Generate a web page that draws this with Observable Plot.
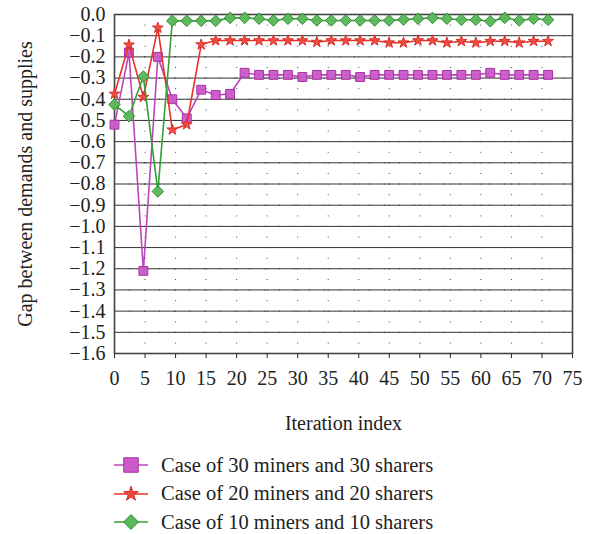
<!DOCTYPE html>
<html>
<head>
<meta charset="utf-8">
<script src="https://cdn.jsdelivr.net/npm/d3@7"></script>
<script src="https://cdn.jsdelivr.net/npm/@observablehq/plot@0.6"></script>
<style>
  html, body { margin: 0; padding: 0; background: #fff; }
  #chart { width: 600px; }
  #chart svg text { font-size: 20px; font-family: "Liberation Serif", serif; fill: #222; }
  .legend { font-family: "Liberation Serif", serif; font-size: 20.5px; color: #222; padding-left: 112px; margin-top: 11px; }
  .legend .row { display: flex; align-items: center; height: 28.5px; }
  .legend svg { margin-right: 11px; }
</style>
</head>
<body>
<div id="chart"></div>
<script>
// Iteration index positions of the markers
const iterations = [0, 2.37, 4.73, 7.1, 9.47, 11.83, 14.2, 16.57, 18.93, 21.3, 23.67, 26.03, 28.4, 30.77, 33.13, 35.5, 37.87, 40.23, 42.6, 44.97, 47.33, 49.7, 52.07, 54.43, 56.8, 59.17, 61.53, 63.9, 66.27, 68.63, 71];

const gap30 = [-0.52, -0.18, -1.21, -0.20, -0.40, -0.49, -0.355, -0.38, -0.375, -0.275, -0.285, -0.285, -0.285, -0.295, -0.285, -0.285, -0.285, -0.295, -0.285, -0.285, -0.285, -0.285, -0.285, -0.285, -0.285, -0.285, -0.275, -0.285, -0.285, -0.285, -0.285];
const gap20 = [-0.375, -0.143, -0.39, -0.063, -0.544, -0.519, -0.142, -0.123, -0.123, -0.123, -0.123, -0.123, -0.123, -0.123, -0.13, -0.123, -0.123, -0.123, -0.123, -0.133, -0.133, -0.123, -0.123, -0.133, -0.126, -0.133, -0.126, -0.126, -0.133, -0.126, -0.126];
const gap10 = [-0.425, -0.48, -0.293, -0.835, -0.03, -0.03, -0.03, -0.03, -0.016, -0.016, -0.02, -0.028, -0.02, -0.02, -0.028, -0.028, -0.028, -0.028, -0.028, -0.028, -0.024, -0.02, -0.016, -0.02, -0.025, -0.025, -0.032, -0.016, -0.028, -0.02, -0.025];

const seriesNames = ["Case of 30 miners and 30 sharers", "Case of 20 miners and 20 sharers", "Case of 10 miners and 10 sharers"];
const xTicks = [0, 5, 10, 15, 20, 25, 30, 35, 40, 45, 50, 55, 60, 65, 70, 75];
const yTicks = [0, -0.1, -0.2, -0.3, -0.4, -0.5, -0.6, -0.7, -0.8, -0.9, -1.0, -1.1, -1.2, -1.3, -1.4, -1.5, -1.6];

const styles = [
  {line: "#bd45bb", fill: "#c95ac7", stroke: "#a92fa7", symbol: "square", r: 5, legendSym: d3.symbolSquare, legendSize: 210},
  {line: "#e8302b", fill: "#ef4a40", stroke: "#d92a24", symbol: "star", r: 3.4, legendSym: d3.symbolStar, legendSize: 66},
  {line: "#34a034", fill: "#5cb65c", stroke: "#2a8f2a", symbol: "diamond2", r: 5.2, legendSym: d3.symbolDiamond2, legendSize: 140}
];
const allSeries = [gap30, gap20, gap10];
const data = allSeries.map((vals, k) => iterations.map((x, i) => ({x, y: vals[i], s: seriesNames[k]})));

const marks = [
  Plot.gridX(xTicks, {stroke: "#333", strokeOpacity: 0.9, strokeDasharray: "1,9.6"}),
  Plot.gridY(yTicks, {stroke: "#333", strokeOpacity: 0.9, strokeDasharray: "1,14"}),
  Plot.axisX(xTicks, {tickSize: 5, tickPadding: 12, label: "Iteration index", labelAnchor: "center", labelArrow: "none", labelOffset: 76}),
  Plot.axisY(yTicks, {tickSize: 0, tickPadding: 9, tickFormat: d3.format(".1f"), label: "Gap between demands and supplies", labelAnchor: "center", labelArrow: "none", labelOffset: 97}),
  Plot.tickY(yTicks, {y: d => d, x1: 0, x2: 0.9, stroke: "#333"}),
  Plot.frame({stroke: "#444", strokeWidth: 1.6})
];
data.forEach((d, k) => {
  const st = styles[k];
  marks.push(Plot.line(d, {x: "x", y: "y", stroke: st.line, strokeWidth: 1.6}));
  marks.push(Plot.dot(d, {x: "x", y: "y", symbol: () => st.symbol, r: st.r, fill: st.fill, stroke: st.stroke, strokeWidth: 1, fillOpacity: 0.95}));
});

const plot = Plot.plot({
  width: 600,
  height: 440,
  marginTop: 14,
  marginLeft: 114,
  marginRight: 28,
  marginBottom: 87,
  style: {fontFamily: "Liberation Serif, serif", color: "#222", background: "#fff"},
  x: {domain: [0, 75]},
  y: {domain: [-1.6, 0]},
  marks
});
document.getElementById("chart").appendChild(plot);

// legend
const legend = document.createElement("div");
legend.className = "legend";
seriesNames.forEach((name, k) => {
  const st = styles[k];
  const row = document.createElement("div");
  row.className = "row";
  const sym = d3.symbol(st.legendSym, st.legendSize)();
  row.innerHTML = `<svg width="38" height="22"><line x1="2" x2="36" y1="11" y2="11" stroke="${st.line}" stroke-width="1.6"/><path d="${sym}" transform="translate(19,11)" fill="${st.fill}" stroke="${st.stroke}" stroke-width="1"/></svg><span>${name}</span>`;
  legend.appendChild(row);
});
document.getElementById("chart").appendChild(legend);
</script>
</body>
</html>
